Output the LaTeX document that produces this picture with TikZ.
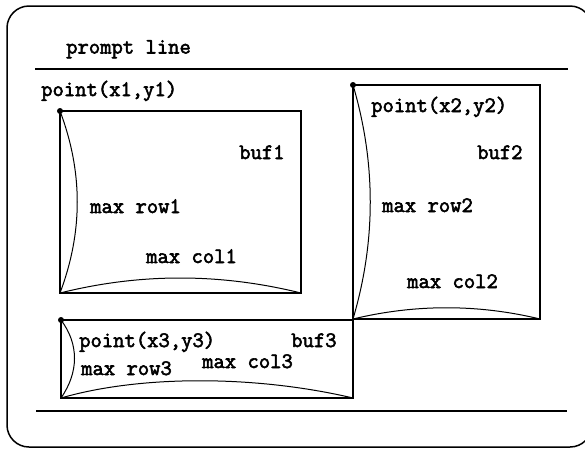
\documentclass[tikz,border=0pt]{standalone}
\usepackage{fontspec}
\newfontfamily\termfont{Latin Modern Mono}[FakeBold=2.6]
\begin{document}
\begin{tikzpicture}[x=1pt,y=-1pt,
  lbl/.style={anchor=base west,inner sep=0pt,font=\termfont\fontsize{22}{24}\selectfont},
  edge/.style={line width=1.5pt},
  arc/.style={line width=1pt},
  rule/.style={line width=1.4pt},
  corner/.style={circle,fill,inner sep=0pt,minimum size=6pt}]
\useasboundingbox (0,0) rectangle (585,448);
\clip (0,0) rectangle (585,448);

% screen outline
\draw[line width=1.5pt,rounded corners=22pt] (7,6) rectangle (592,447);

% prompt line and bottom rule
\coordinate (pl1) at (35,69);
\coordinate (pl2) at (568,69);
\coordinate (bl1) at (36,411);
\coordinate (bl2) at (567,411);
\draw[rule] (pl1) -- (pl2);
\draw[rule] (bl1) -- (bl2);
\node[lbl] (prompt) at (66,53.5) {prompt line};

% window 1
\coordinate (a1) at (60,111);
\coordinate (b1) at (301,111);
\coordinate (c1) at (301,293);
\coordinate (d1) at (60,293);
\draw[edge] (a1) -- (b1) -- (c1) -- (d1) -- cycle;
\draw[arc] (a1) .. controls (83,172) and (83,232) .. (d1);
\draw[arc] (d1) .. controls (140,273) and (220,273) .. (c1);
\node[corner] (p1) at (a1) {};
\node[lbl] (pt1) at (41,96) {point(x1,y1)};
\node[lbl] (buf1) at (239,159) {buf1};
\node[lbl] (row1) at (90,213) {max row1};
\node[lbl] (col1) at (146,263) {max col1};

% window 2
\coordinate (a2) at (353,85);
\coordinate (b2) at (540,85);
\coordinate (c2) at (540,319);
\coordinate (d2) at (353,319);
\coordinate (e2) at (353,328);
\draw[edge] (a2) -- (b2) -- (c2) -- (d2) -- (a2);
\draw[edge] (d2) -- (e2);
\draw[arc] (a2) .. controls (376,163) and (376,241) .. (d2);
\draw[arc] (d2) .. controls (415,304) and (478,304) .. (c2);
\node[corner] (p2) at (a2) {};
\node[lbl] (pt2) at (371,112) {point(x2,y2)};
\node[lbl] (buf2) at (477,159) {buf2};
\node[lbl] (row2) at (382,212) {max row2};
\node[lbl] (col2) at (407,288) {max col2};

% window 3
\coordinate (a3) at (61,320);
\coordinate (b3) at (353,320);
\coordinate (c3) at (353,398);
\coordinate (d3) at (61,398);
\draw[edge] (a3) -- (b3) -- (c3) -- (d3) -- cycle;
\draw[arc] (a3) .. controls (79,344) and (79,372) .. (d3);
\draw[arc] (d3) .. controls (140,375) and (255,375) .. (c3);
\node[corner] (p3) at (a3) {};
\node[lbl] (pt3) at (79,347) {point(x3,y3)};
\node[lbl] (buf3) at (291,347) {buf3};
\node[lbl] (row3) at (81,375) {max row3};
\node[lbl] (col3) at (202,368) {max col3};
\end{tikzpicture}
\end{document}
